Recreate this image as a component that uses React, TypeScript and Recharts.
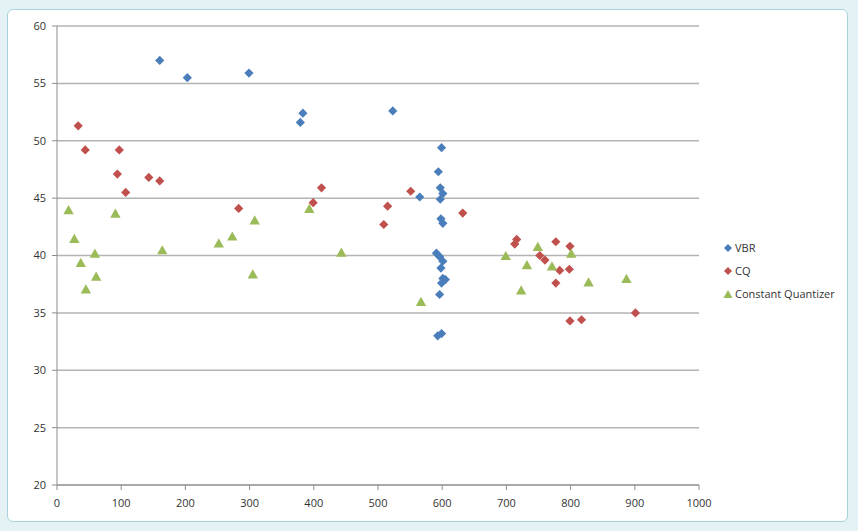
import { ScatterChart, Scatter, XAxis, YAxis, CartesianGrid } from 'recharts';

// values (x, PSNR-like y)
const vbr: [number, number][] = [
  [160, 57.0], [203, 55.5], [299, 55.9], [383, 52.4], [379, 51.6], [523, 52.6],
  [599, 49.4], [594, 47.3], [597, 45.9], [601, 45.4], [597, 44.9], [565, 45.1],
  [598, 43.2], [601, 42.8], [591, 40.2], [596, 39.9], [601, 39.5], [598, 38.9],
  [601, 38.0], [605, 37.9], [599, 37.6], [596, 36.6], [593, 33.0], [599, 33.2],
];

const cq: [number, number][] = [
  [33, 51.3], [44, 49.2], [97, 49.2], [94, 47.1], [107, 45.5], [143, 46.8],
  [160, 46.5], [283, 44.1], [399, 44.6], [412, 45.9], [509, 42.7], [515, 44.3],
  [551, 45.6], [632, 43.7], [713, 41.0], [716, 41.4], [752, 40.0], [760, 39.6],
  [777, 41.2], [777, 37.6], [783, 38.7], [798, 38.8], [799, 40.8], [799, 34.3],
  [817, 34.4], [901, 35.0],
];

const constQ: [number, number][] = [
  [18, 44.0], [27, 41.5], [37, 39.4], [45, 37.1], [59, 40.2], [61, 38.2],
  [91, 43.7], [164, 40.5], [252, 41.1], [273, 41.7], [308, 43.1], [305, 38.4],
  [393, 44.1], [443, 40.3], [567, 36.0], [699, 40.0], [749, 40.8], [732, 39.2],
  [723, 37.0], [771, 39.1], [801, 40.2], [828, 37.7], [887, 38.0],
];

const xTicks = [0, 100, 200, 300, 400, 500, 600, 700, 800, 900, 1000];
const yTicks = [20, 25, 30, 35, 40, 45, 50, 55, 60];

const seriesNames = ['VBR', 'CQ', 'Constant Quantizer'];
const colors = ['#4a7ebb', '#c0504d', '#9bbb59'];

const toPoints = (arr: [number, number][]) => arr.map(([x, y]) => ({ x, y }));

const FONT = '"Open Sans", "Liberation Sans", sans-serif';

function Diamond(props: any) {
  const { cx, cy, fill } = props;
  const r = 4.6;
  return <path d={`M${cx},${cy - r}L${cx + r},${cy}L${cx},${cy + r}L${cx - r},${cy}Z`} fill={fill} />;
}

function Triangle(props: any) {
  const { cx, cy, fill } = props;
  const w = 5.2;
  const h = 4.6;
  return <path d={`M${cx},${cy - h}L${cx + w},${cy + h}L${cx - w},${cy + h}Z`} fill={fill} />;
}

function LegendMarker({ i }: { i: number }) {
  if (i === 2) {
    return (
      <svg width={10} height={10} style={{ marginRight: 2 }}>
        <path d="M5,1L9.5,9L0.5,9Z" fill={colors[i]} />
      </svg>
    );
  }
  return (
    <svg width={10} height={10} style={{ marginRight: 2 }}>
      <path d="M5,1L9,5L5,9L1,5Z" fill={colors[i]} />
    </svg>
  );
}

export default function App() {
  const tickStyle = { fontSize: 11, fill: '#333', fontFamily: FONT };
  return (
    <div style={{ position: 'absolute', left: 0, top: 0, width: 858, height: 531, background: '#e4f2f6' }}>
      <div
        style={{
          position: 'absolute', left: 7, top: 9, width: 841, height: 513,
          background: '#fff', border: '1px solid #a8d2dc', borderRadius: 6, boxSizing: 'border-box',
        }}
      />
      <div style={{ position: 'absolute', left: 0, top: 0 }}>
        <ScatterChart width={858} height={531} margin={{ top: 26, right: 159, bottom: 16, left: 27 }}>
          <CartesianGrid horizontal vertical={false} stroke="#b4b4b4" strokeWidth={1.5} />
          <XAxis
            type="number" dataKey="x" domain={[0, 1000]} ticks={xTicks} interval={0}
            axisLine={{ stroke: '#8c8c8c' }} tickLine={{ stroke: '#8c8c8c' }} tickSize={5} tickMargin={9}
            tick={tickStyle} height={30}
          />
          <YAxis
            type="number" dataKey="y" domain={[20, 60]} ticks={yTicks} interval={0}
            axisLine={{ stroke: '#8c8c8c' }} tickLine={{ stroke: '#8c8c8c' }} tickSize={5} tickMargin={6}
            tick={tickStyle} width={30}
          />
          <Scatter name={seriesNames[0]} data={toPoints(vbr)} fill={colors[0]} shape={Diamond} isAnimationActive={false} />
          <Scatter name={seriesNames[1]} data={toPoints(cq)} fill={colors[1]} shape={Diamond} isAnimationActive={false} />
          <Scatter name={seriesNames[2]} data={toPoints(constQ)} fill={colors[2]} shape={Triangle} isAnimationActive={false} />
        </ScatterChart>
      </div>
      <div style={{ position: 'absolute', left: 723, top: 236, fontFamily: FONT, fontSize: 11, color: '#333' }}>
        {seriesNames.map((n, i) => (
          <div key={n} style={{ display: 'flex', alignItems: 'center', height: 23 }}>
            <LegendMarker i={i} />
            <span>{n}</span>
          </div>
        ))}
      </div>
    </div>
  );
}
